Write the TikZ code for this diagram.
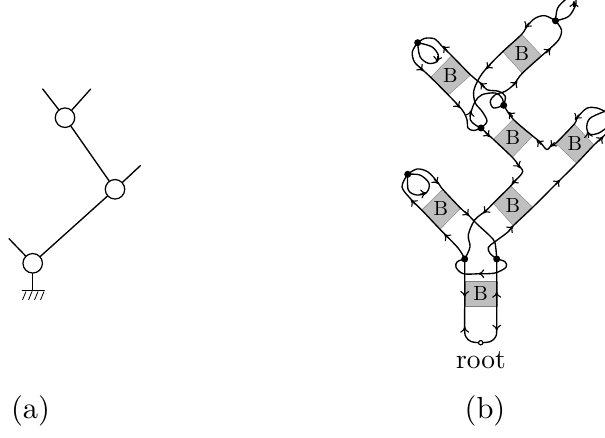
\documentclass[tikz,border=0pt]{standalone}
\usetikzlibrary{arrows.meta}
\tikzset{
  ln/.style={line width=1.35pt,line join=round,line cap=round},
  strand/.style={ln,smooth,tension=0.55},
  joint/.style={circle,draw,line width=1.25pt,fill=white,minimum size=19.5pt,inner sep=0pt},
  bigdot/.style={circle,fill=black,minimum size=7pt,inner sep=0pt},
  rootdot/.style={circle,draw,line width=1pt,fill=white,minimum size=4.2pt,inner sep=0pt},
  boxfill/.style={fill=black!25,draw=black!50,line width=.4pt},
  boxlabel/.style={scale=2.05,inner sep=0pt},
  biglabel/.style={scale=2.75,inner sep=0pt},
  caplabel/.style={scale=3.05,inner sep=0pt},
  tipline/.style={line width=1.1pt,-{Computer Modern Rightarrow[length=6pt,width=9pt]}},
}
\newcommand\tipat[3]{\draw[tipline] (#1,#2) ++(#3+180:6.5) -- (#1,#2);}
\begin{document}
\begin{tikzpicture}[x=1pt,y=-1pt]
\useasboundingbox (0,0) rectangle (605,438);
% (a)
\node[joint] (ja) at (65,117.7) {};
\node[joint] (jb) at (115,189.3) {};
\node[joint] (jc) at (32.7,263.3) {};
\coordinate (ea) at (42.7,89);
\coordinate (eb) at (90.7,89);
\coordinate (ec) at (140.3,165.7);
\coordinate (ed) at (9,238.7);
\coordinate (gnd) at (32.7,290.7);
\draw[ln] (ja) -- (ea);
\draw[ln] (ja) -- (eb);
\draw[ln] (ja) -- (jb);
\draw[ln] (jb) -- (ec);
\draw[ln] (jb) -- (jc);
\draw[ln] (jc) -- (ed);
\draw[ln] (jc) -- (gnd);
\draw[ln] (22.3,290.7) -- (44.3,290.7);
\foreach \x in {26,32,38,44}{\draw[line width=.8pt] (\x,291.5) -- (\x-3.5,300);}
\node[caplabel] (la) at (30.5,411) {(a)};
% (b) boxes
\filldraw[boxfill] (451.7,55.7) -- (470.7,75) -- (448.3,95) -- (430.7,77.3) -- cycle;
\filldraw[boxfill] (521.7,34.3) -- (541.7,55.7) -- (522.3,73.3) -- (502.7,51.7) -- cycle;
\filldraw[boxfill] (513.3,119.3) -- (532.7,136) -- (512.3,157.3) -- (493.3,139.3) -- cycle;
\filldraw[boxfill] (574.3,124) -- (594,145) -- (576.7,163.3) -- (555.7,143.3) -- cycle;
\filldraw[boxfill] (442.7,189.3) -- (460.7,208.3) -- (440,229.3) -- (421.7,210) -- cycle;
\filldraw[boxfill] (510.7,186) -- (532.7,207.3) -- (513.3,225.7) -- (493.3,203.3) -- cycle;
\filldraw[boxfill] (464.7,281) rectangle (496.7,306);
\node[boxlabel] (b1) at (450.3,75.5) {B};
\node[boxlabel] (b2) at (522,54) {B};
\node[boxlabel] (b3) at (513,138) {B};
\node[boxlabel] (b4) at (575,143.5) {B};
\node[boxlabel] (b5) at (441,209) {B};
\node[boxlabel] (b6) at (513,206) {B};
\node[boxlabel] (b7) at (480.7,293.7) {B};
% dots
\node[bigdot] (A) at (481,128) {};
\node[bigdot] (Bd) at (503.7,105.3) {};
\node[bigdot] (L) at (464.7,259) {};
\node[bigdot] (R) at (496.7,259) {};
\node[bigdot] (Da) at (417.7,42.7) {};
\node[bigdot] (Db) at (555.5,20.8) {};
\node[bigdot] (Dc) at (407.7,174.3) {};
\node[rootdot] (rt) at (480.7,342.7) {};
% strands
\draw[strand] plot coordinates {(Da.center) (412.3,51.7) (414.3,61.7) (421.7,69) (430.7,77.3) (448.3,95) (462,109.7) (467,119.7) (468,128) (473.7,130.5) (A.center)};
\draw[strand] plot coordinates {(Da.center) (425,38.3) (435,39) (441.7,46) (451.7,55.7) (470.7,75) (480.3,83) (487,89.7) (498.7,91.3) (505.3,96.3) (Bd.center)};
\draw[strand] plot coordinates {(Da.center) (420,56.7) (428.3,63.3) (436.7,61.7) (438.3,55) (431.7,46.7) (Da.center)};
\draw[strand] plot coordinates {(Bd.center) (493.7,108) (490.3,101.3) (495.3,94.7) (505.3,91.3) (512,86.3) (515,83) (522.3,73.3) (541.7,55.7) (548.3,50) (558.5,40) (561.5,30) (Db.center)};
\draw[strand] plot coordinates {(Db.center) (545,15.7) (535,18.3) (526.7,26.7) (521.7,34.3) (502.7,51.7) (486.7,68) (478.7,79) (473.7,91.3) (475.3,103) (482,111.3) (487,121.3) (A.center)};
\draw[strand] plot coordinates {(A.center) (475,124.7) (470.3,119.7) (471.3,111.3) (475.3,101.3) (482,94.7) (495.3,93) (502,98) (Bd.center)};
\draw[strand] plot coordinates {(Db.center) (557.5,8.3) (565,0) (570,-3) (575,-3) (576,1) (575,6.7) (568.3,16.7) (Db.center)};
\draw[strand] plot coordinates {(Bd.center) (513.3,119.3) (532.7,136) (540,142) (546.7,149.5) (551.7,145) (555.7,143.3) (574.3,124) (577,118) (586.7,108.3) (597,108) (608,113)};
\draw[strand] plot coordinates {(607,110.5) (590,118.3) (586.7,128.3) (590,134.3) (598.3,133.3) (607,127.5)};
\draw[strand] plot coordinates {(R.center) (490,253.3) (488.3,247.3) (495,241.7) (508.3,231.7) (513.3,225.7) (532.7,207.3) (558.3,181.7) (576.7,163.3) (594,145) (603,136.7) (610,130)};
\draw[strand] plot coordinates {(A.center) (493.3,139.3) (512.3,157.3) (518.3,165) (522.7,171.7) (516,180) (510.7,186) (493.3,203.3) (486,210.7) (474.7,220) (468.3,235) (470,247) (L.center)};
\draw[strand] plot coordinates {(L.center) (458.3,248.3) (440,229.3) (421.7,210) (411.7,200) (402,187) (Dc.center)};
\draw[strand] plot coordinates {(Dc.center) (417,169) (428,172) (438.3,183) (442.7,189.3) (460.7,208.3) (467.3,214) (476.7,223.7) (490,236) (495,243) (R.center)};
\draw[strand] plot coordinates {(Dc.center) (408.3,190) (416.7,195) (426.7,192.3) (429,183.3) (420,175) (Dc.center)};
\draw[strand] plot coordinates {(L.center) (464.7,300) (464.7,330) (466,337) (471,341.5) (rt.center) (490.5,341.5) (495.5,337) (496.7,330) (496.7,300) (R.center)};
\draw[strand] plot coordinates {(L.center) (457.3,261.7) (456,267.3) (463.3,273.7) (480,273.7) (495,273) (506,267.3) (505,261.7) (R.center)};
\node[rootdot] (rtb) at (rt) {};
% tips
\tipat{464.7}{326.7}{270}
\tipat{496.7}{330.7}{90}
\tipat{464.7}{297}{90}
\tipat{496.7}{291.7}{270}
\tipat{478.3}{273.7}{180}
\tipat{444.3}{234}{225}
\tipat{410.7}{199.7}{225}
\tipat{438.3}{184}{50}
\tipat{426.7}{193}{-10}
\tipat{469.3}{216}{45}
\tipat{483.3}{213.3}{135}
\tipat{520}{168}{55}
\tipat{511.7}{184}{135}
\tipat{513.3}{226}{315}
\tipat{560}{180}{315}
\tipat{603.3}{136.7}{315}
\tipat{575}{120}{125}
\tipat{587.5}{131.5}{260}
\tipat{550}{147}{135}
\tipat{536.7}{140}{225}
\tipat{508.3}{112}{225}
\tipat{490}{137}{45}
\tipat{460}{108}{50}
\tipat{423.3}{71}{45}
\tipat{442.7}{46}{225}
\tipat{436.7}{62.5}{100}
\tipat{486}{69}{135}
\tipat{525}{28.3}{125}
\tipat{550.7}{48.3}{315}
\tipat{517.3}{81}{310}
\tipat{480}{82.5}{225}
\tipat{471}{110.3}{280}
\tipat{574}{1}{270}
% labels
\node[biglabel] (lr) at (481,360) {root};
\node[caplabel] (lb) at (485,411) {(b)};
\end{tikzpicture}
\end{document}
